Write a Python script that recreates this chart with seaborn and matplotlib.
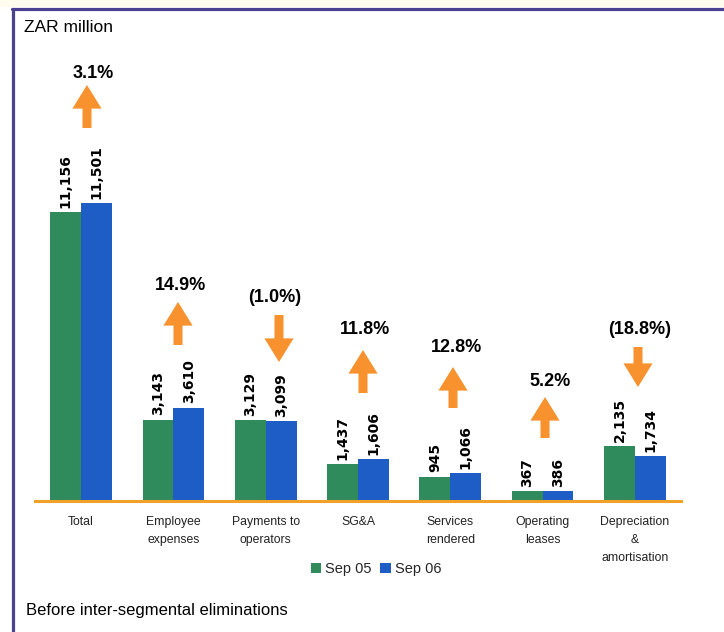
import matplotlib
matplotlib.use("Agg")
import matplotlib.pyplot as plt
import seaborn as sns
import pandas as pd
from matplotlib.patches import Rectangle
from matplotlib.lines import Line2D

# ---- data ----
categories = ["Total", "Employee\nexpenses", "Payments to\noperators", "SG&A",
              "Services\nrendered", "Operating\nleases", "Depreciation\n&\namortisation"]
periods = ["Sep 05", "Sep 06"]
sep05 = [11156, 3143, 3129, 1437, 945, 367, 2135]
sep06 = [11501, 3610, 3099, 1606, 1066, 386, 1734]

# ---- layout (figure pixels, from top) ----
W, H = 724, 632
arrow_x_px = [87, 178, 279, 363, 453, 545, 638]
arrow_tail_px = [128, 345, 315, 393, 408, 438, 347]
arrow_tip_px = [85, 302, 362, 350, 367, 397, 387]
pct_pos_px = [(93, 73), (180, 286), (275, 298), (365, 330), (457, 347), (550, 382), (640, 329)]

GREEN = "#2F8B5B"
BLUE = "#1E5CC6"
ORANGE = "#F7922E"
AXIS_ORANGE = "#EFA12A"
FRAME = "#4A4190"

sns.set_theme(style="white")
plt.rcParams["font.family"] = ["Liberation Sans", "DejaVu Sans"]

df = pd.DataFrame({
    "category": categories * 2,
    "period": [periods[0]] * len(categories) + [periods[1]] * len(categories),
    "value": sep05 + sep06,
})

fig = plt.figure(figsize=(W / 100, H / 100), dpi=100)
fig.patch.set_facecolor("white")

ax_left, ax_right, ax_top, ax_bottom = 35, 681, 40, 501
ax = fig.add_axes([ax_left / W, (H - ax_bottom) / H, (ax_right - ax_left) / W, (ax_bottom - ax_top) / H])

sns.barplot(data=df, x="category", y="value", hue="period", hue_order=periods,
            palette=[GREEN, BLUE], width=0.67, saturation=1, ax=ax, legend=True,
            linewidth=0, edgecolor="none")

ax.set_xlim(-0.5, 6.5)
ax.set_ylim(0, 17800)
ax.set_facecolor("none")
for s in ["top", "right", "left"]:
    ax.spines[s].set_visible(False)
ax.spines["bottom"].set_color(AXIS_ORANGE)
ax.spines["bottom"].set_linewidth(2.2)
ax.set_yticks([])
ax.set_xlabel("")
ax.set_ylabel("")
ax.tick_params(axis="x", length=0, pad=11, labelsize=8.8, colors="#222222")
for lbl in ax.get_xticklabels():
    lbl.set_linespacing(1.65)
    lbl.set_verticalalignment("top")

for cont in ax.containers:
    vals = [b.get_height() for b in cont]
    ax.bar_label(cont, labels=[f"{v:,.0f}" for v in vals], rotation=90, padding=3,
                 fontsize=10, fontweight="bold", family="DejaVu Sans", color="black")

# legend
handles, labels = ax.get_legend_handles_labels()
ax.get_legend().remove()
fig.legend(handles, labels, loc="center", bbox_to_anchor=(376 / W, (H - 569) / H),
           ncol=2, frameon=False, fontsize=10.5, handlelength=0.75, handleheight=0.75,
           handletextpad=0.25, columnspacing=0.6)

# change arrows and percentages
for i in range(len(categories)):
    pct = (sep06[i] - sep05[i]) / sep05[i] * 100
    txt = f"{pct:.1f}%" if pct >= 0 else f"({abs(pct):.1f}%)"
    x = arrow_x_px[i]
    fig.add_artist(matplotlib.patches.FancyArrowPatch(
        (x, H - arrow_tail_px[i]), (x, H - arrow_tip_px[i]),
        transform=None, arrowstyle="simple,head_length=1.7,head_width=2.1,tail_width=0.65",
        mutation_scale=10, color=ORANGE, shrinkA=0, shrinkB=0, lw=0))
    px, py = pct_pos_px[i]
    fig.text(px / W, (H - py) / H, txt, ha="center", va="center",
             fontsize=13, fontweight="bold", color="black")

# texts
fig.text(24 / W, (H - 27) / H, "ZAR million", ha="left", va="center", fontsize=12.5, color="black")
fig.text(26 / W, (H - 610) / H, "Before inter-segmental eliminations", ha="left", va="center",
         fontsize=12, color="black")

# frame (top and left edges) and cream margins
fig.add_artist(Rectangle((0, (H - 7) / H), 1, 7 / H, transform=fig.transFigure,
                         facecolor="#FFFCEE", edgecolor="none", zorder=0))
fig.add_artist(Line2D([12 / W, 1], [(H - 9) / H, (H - 9) / H], transform=fig.transFigure,
                      color=FRAME, lw=2.3))
fig.add_artist(Line2D([13 / W, 13 / W], [0, (H - 9) / H], transform=fig.transFigure,
                      color=FRAME, lw=2.3))

fig.savefig("out.png", dpi=100)
